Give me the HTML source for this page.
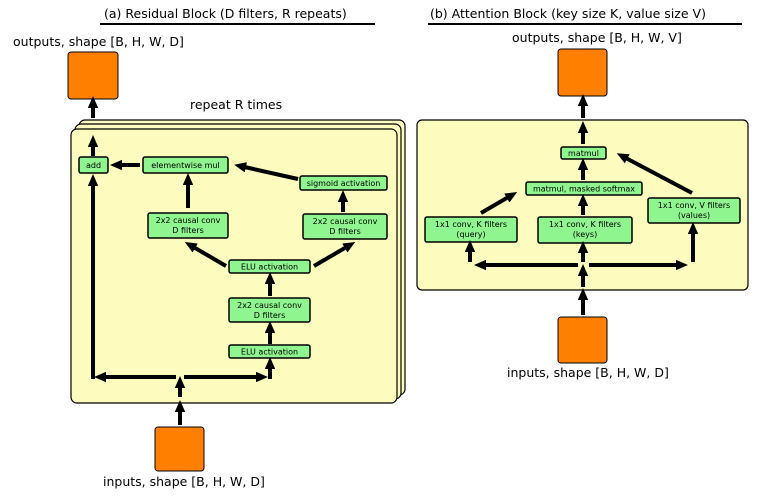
<!DOCTYPE html>
<html><head><meta charset="utf-8"><style>
body{margin:0;background:#fff}
svg{display:block}
text{font-family:"DejaVu Sans","Liberation Sans",sans-serif;fill:#000}
.t{font-size:12.5px}
.s{font-size:8px}
.card{fill:#fdfbbd;stroke:#000;stroke-width:1.2}
.b{fill:#8ff58f;stroke:#000;stroke-width:1.5}
.o{fill:#ff7f00;stroke:#000;stroke-width:1}
.a{stroke:#000;stroke-width:4;fill:none;marker-end:url(#m)}
.l{stroke:#000;stroke-width:4;fill:none}
</style></head><body>
<svg width="764" height="497" viewBox="0 0 764 497">
<defs><marker id="m" markerWidth="3" markerHeight="2.6" refX="1.5" refY="1.3" orient="auto" markerUnits="strokeWidth"><path d="M0,0 L3,1.3 L0,2.6 z" fill="#000"/></marker></defs>
<text class="t" x="104" y="18">(a) Residual Block (D filters, R repeats)</text>
<line x1="100" y1="24" x2="375" y2="24" stroke="#000" stroke-width="2"/>
<text class="t" x="430" y="18">(b) Attention Block (key size K, value size V)</text>
<line x1="428" y1="24" x2="742" y2="24" stroke="#000" stroke-width="2"/>

<text class="t" x="13" y="46">outputs, shape [B, H, W, D]</text>
<rect class="o" x="68" y="52" width="50" height="47" rx="3"/>
<text class="t" x="190" y="109">repeat R times</text>
<rect class="card" x="79" y="120" width="326" height="275" rx="6"/>
<rect class="card" x="75" y="124" width="326" height="275" rx="6"/>
<rect class="card" x="71" y="129" width="326" height="274" rx="6"/>
<line class="a" x1="93" y1="118" x2="93" y2="102"/>
<line class="a" x1="93" y1="156" x2="93" y2="141"/>

<rect class="b" x="79" y="157" width="29" height="16" rx="2"/><text class="s" x="93.5" y="168" text-anchor="middle">add</text>
<rect class="b" x="143" y="157" width="85" height="16" rx="2"/><text class="s" x="185.5" y="168" text-anchor="middle">elementwise mul</text>
<rect class="b" x="300" y="176" width="87" height="14" rx="2"/><text class="s" x="343.5" y="186" text-anchor="middle">sigmoid activation</text>
<rect class="b" x="148" y="213" width="80" height="25" rx="2"/><text class="s" x="188" y="223" text-anchor="middle">2x2 causal conv</text><text class="s" x="188" y="233" text-anchor="middle">D filters</text>
<rect class="b" x="303" y="214" width="84" height="25" rx="2"/><text class="s" x="345" y="224" text-anchor="middle">2x2 causal conv</text><text class="s" x="345" y="234" text-anchor="middle">D filters</text>
<rect class="b" x="229" y="260" width="81" height="13" rx="2"/><text class="s" x="269.5" y="269.5" text-anchor="middle">ELU activation</text>
<rect class="b" x="229" y="298" width="81" height="24" rx="2"/><text class="s" x="269.5" y="308" text-anchor="middle">2x2 causal conv</text><text class="s" x="269.5" y="318" text-anchor="middle">D filters</text>
<rect class="b" x="229" y="345" width="81" height="13" rx="2"/><text class="s" x="269.5" y="354.5" text-anchor="middle">ELU activation</text>

<line class="a" x1="180" y1="425" x2="180" y2="406"/>
<line class="a" x1="180" y1="397" x2="180" y2="382"/>
<line class="a" x1="176" y1="377" x2="100" y2="377"/>
<line class="a" x1="184" y1="377" x2="262" y2="377"/>
<line class="l" x1="93" y1="379" x2="93" y2="190"/>
<line class="a" x1="93" y1="200" x2="93" y2="180"/>
<line class="a" x1="270" y1="379" x2="270" y2="363"/>
<line class="a" x1="270" y1="344" x2="270" y2="327"/>
<line class="a" x1="270" y1="296" x2="270" y2="278"/>
<line class="a" x1="226" y1="266" x2="190" y2="245"/>
<line class="a" x1="314" y1="266" x2="350" y2="245"/>
<line class="a" x1="188" y1="208" x2="188" y2="179"/>
<line class="a" x1="343" y1="212" x2="343" y2="196"/>
<line class="a" x1="298" y1="179" x2="240" y2="166"/>
<line class="a" x1="140" y1="165" x2="116" y2="165"/>

<rect class="o" x="155" y="427" width="49" height="44" rx="3"/>
<text class="t" x="103" y="486">inputs, shape [B, H, W, D]</text>

<text class="t" x="512" y="42">outputs, shape [B, H, W, V]</text>
<rect class="o" x="558" y="49" width="49" height="47" rx="3"/>
<rect class="card" x="417" y="120" width="331" height="170" rx="5"/>
<line class="a" x1="583" y1="118" x2="583" y2="100"/>
<line class="a" x1="583" y1="144" x2="583" y2="127"/>
<rect class="b" x="561" y="147" width="45" height="12" rx="2"/><text class="s" x="583.5" y="156" text-anchor="middle">matmul</text>
<rect class="b" x="526" y="182" width="116" height="13" rx="2"/><text class="s" x="584" y="191.5" text-anchor="middle">matmul, masked softmax</text>
<rect class="b" x="425" y="217" width="92" height="25" rx="2"/><text class="s" x="471" y="227" text-anchor="middle">1x1 conv, K filters</text><text class="s" x="471" y="237" text-anchor="middle">(query)</text>
<rect class="b" x="538" y="217" width="94" height="26" rx="2"/><text class="s" x="585" y="227" text-anchor="middle">1x1 conv, K filters</text><text class="s" x="585" y="237" text-anchor="middle">(keys)</text>
<rect class="b" x="648" y="198" width="92" height="25" rx="2"/><text class="s" x="694" y="208" text-anchor="middle">1x1 conv, V filters</text><text class="s" x="694" y="218" text-anchor="middle">(values)</text>
<line class="a" x1="583" y1="180" x2="583" y2="164"/>
<line class="a" x1="583" y1="215" x2="583" y2="200"/>
<line class="a" x1="481" y1="213" x2="512" y2="195"/>
<line class="a" x1="692" y1="193" x2="622" y2="156"/>
<line class="a" x1="583" y1="287" x2="583" y2="270"/>
<line class="a" x1="578" y1="265" x2="480" y2="265"/>
<line class="a" x1="589" y1="265" x2="682" y2="265"/>
<line class="a" x1="470" y1="262" x2="470" y2="246"/>
<line class="a" x1="583" y1="262" x2="583" y2="247"/>
<line class="a" x1="693" y1="262" x2="693" y2="228"/>
<line class="a" x1="583" y1="315" x2="583" y2="294"/>
<rect class="o" x="558" y="317" width="49" height="46" rx="3"/>
<text class="t" x="507" y="377">inputs, shape [B, H, W, D]</text>
</svg>
</body></html>
